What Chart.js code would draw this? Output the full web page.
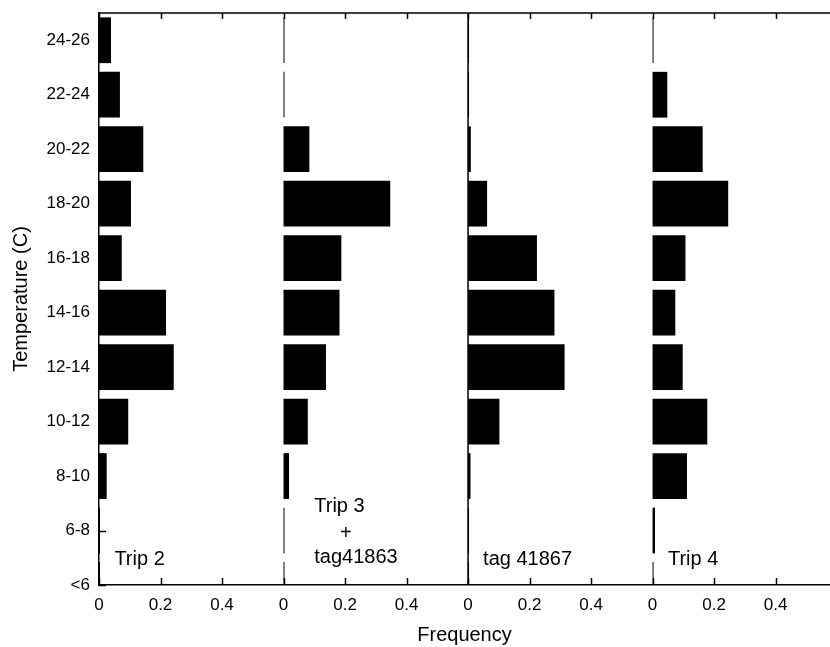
<!DOCTYPE html>
<html>
<head>
<meta charset="utf-8">
<title>Temperature frequency</title>
<script src="https://cdn.jsdelivr.net/npm/chart.js@4.4.1/dist/chart.umd.min.js"></script>
<style>
  body { margin: 0; background: #fff; }
</style>
</head>
<body>
<canvas id="chart" width="830" height="647"></canvas>
<script>
// temperature classes, bottom to top
const tempLabels = ['<6', '6-8', '8-10', '10-12', '12-14', '14-16', '16-18', '18-20', '20-22', '22-24', '24-26'];

// frequencies per class (same order as tempLabels)
const trip2 = [0, 0, 0.025, 0.095, 0.243, 0.218, 0.074, 0.104, 0.144, 0.068, 0.039];
const trip3 = [0, 0, 0.018, 0.079, 0.138, 0.182, 0.188, 0.347, 0.084, 0, 0];
const tag41867 = [0, 0, 0.008, 0.102, 0.314, 0.281, 0.224, 0.062, 0.009, 0, 0];
const trip4 = [0, 0.008, 0.112, 0.178, 0.098, 0.074, 0.107, 0.246, 0.163, 0.048, 0];

// each panel covers 0..0.6 on the shared frequency axis
const freqTickLabels = ['0', '0.2', '0.4'];
const panelSpan = 0.6;
const panels = [trip2, trip3, tag41867, trip4];

// panel captions, placed in data units
const notes = [
    { text: 'Trip 2', x: 0.05, y: 0.46, align: 'left' },
    { text: 'Trip 3', x: 0.70, y: 1.45, align: 'left' },
    { text: '+', x: 0.803, y: 0.95, align: 'center' },
    { text: 'tag41863', x: 0.70, y: 0.5, align: 'left' },
    { text: 'tag 41867', x: 1.249, y: 0.46, align: 'left' },
    { text: 'Trip 4', x: 1.85, y: 0.46, align: 'left' }
];

const FONT = "'Liberation Sans', Arial, Helvetica, sans-serif";

const datasets = panels.map((vals, p) => ({
    data: vals.map((v, i) => ({ y: i, x: [p * panelSpan, p * panelSpan + v] })),
    backgroundColor: '#000',
    borderWidth: 0,
    minBarLength: 1,
    grouped: false,
    categoryPercentage: 1,
    barPercentage: 0.84
}));

// frame, inward ticks, divider line and captions
const framePlugin = {
    id: 'frame',
    beforeDatasetsDraw(chart) {
        const { ctx, chartArea: a, scales: { x } } = chart;
        ctx.save();
        ctx.strokeStyle = '#000';
        ctx.lineWidth = 1.5;
        const px = x.getPixelForValue(2 * panelSpan);
        ctx.beginPath();
        ctx.moveTo(px, a.top);
        ctx.lineTo(px, a.bottom);
        ctx.stroke();
        ctx.restore();
    },
    afterDraw(chart) {
        const { ctx, chartArea: a, scales: { x, y } } = chart;
        ctx.save();
        ctx.strokeStyle = '#000';
        ctx.lineWidth = 1.5;
        ctx.beginPath();
        ctx.moveTo(a.left, a.top);
        ctx.lineTo(a.right, a.top);
        x.ticks.forEach(t => {
            if (t.label === '') return;
            const px = Math.round(x.getPixelForValue(t.value)) + 0.5;
            ctx.moveTo(px, a.top);
            ctx.lineTo(px, a.top + 6);
            ctx.moveTo(px, a.bottom);
            ctx.lineTo(px, a.bottom - 7);
        });
        y.ticks.forEach(t => {
            if (t.label === '') return;
            const py = Math.round(y.getPixelForValue(t.value)) + 0.5;
            ctx.moveTo(a.left, py);
            ctx.lineTo(a.left + 7, py);
        });
        ctx.stroke();

        ctx.fillStyle = '#000';
        ctx.font = '20px ' + FONT;
        ctx.textBaseline = 'middle';
        notes.forEach(n => {
            ctx.textAlign = n.align;
            ctx.fillText(n.text, x.getPixelForValue(n.x), y.getPixelForValue(n.y));
        });
        ctx.restore();
    }
};

new Chart(document.getElementById('chart'), {
    type: 'bar',
    data: { datasets },
    options: {
        indexAxis: 'y',
        responsive: false,
        animation: false,
        layout: { padding: { top: 13, right: 0, left: 0, bottom: 0 } },
        plugins: { legend: { display: false }, tooltip: { enabled: false } },
        scales: {
            x: {
                type: 'linear',
                min: 0,
                max: 2.377,
                grid: { display: false, drawTicks: false },
                border: { display: true, color: '#000', width: 1.5 },
                ticks: {
                    stepSize: 0.2,
                    autoSkip: false,
                    maxRotation: 0,
                    includeBounds: false,
                    padding: 10,
                    color: '#000',
                    font: { family: FONT, size: 17 },
                    callback: v => freqTickLabels[Math.round(v / 0.2) % 3]
                },
                title: {
                    display: true,
                    text: 'Frequency',
                    color: '#000',
                    font: { family: FONT, size: 20 },
                    padding: { top: 0, bottom: 0 }
                },
                afterFit: s => { s.height = 62; s.paddingLeft = 0; s.paddingRight = 0; }
            },
            y: {
                type: 'linear',
                offset: false,
                min: 0,
                max: 10.5,
                grid: { display: false, drawTicks: false, offset: false },
                border: { display: true, color: '#000', width: 1.5 },
                ticks: {
                    stepSize: 1,
                    autoSkip: false,
                    includeBounds: false,
                    padding: 9,
                    color: '#000',
                    font: { family: FONT, size: 17 },
                    callback: v => Number.isInteger(v) ? tempLabels[v] : ''
                },
                title: {
                    display: true,
                    text: 'Temperature (C)',
                    color: '#000',
                    font: { family: FONT, size: 20 },
                    padding: { top: 9, bottom: 0 }
                },
                afterFit: s => { s.width = 99; s.paddingTop = 0; s.paddingBottom = 0; }
            }
        }
    },
    plugins: [framePlugin]
});
</script>
</body>
</html>
